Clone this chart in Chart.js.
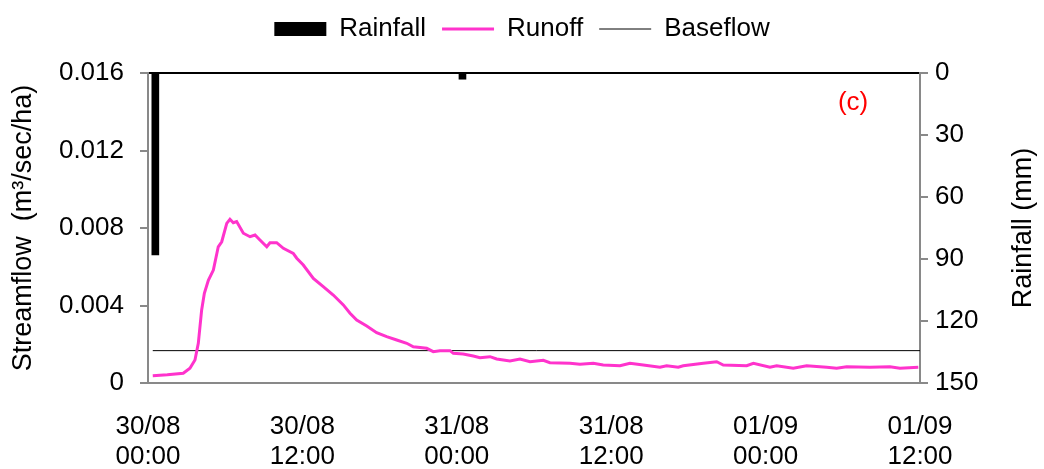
<!DOCTYPE html>
<html>
<head>
<meta charset="utf-8">
<script src="https://cdn.jsdelivr.net/npm/chart.js@4/dist/chart.umd.min.js"></script>
<style>
  html, body { margin: 0; padding: 0; background: #fff; }
  #wrap { width: 1044px; height: 469px; }
</style>
</head>
<body>
<div id="wrap"><canvas id="myChart"></canvas></div>
<script>
// hours since 30/08 00:00
const xTickLabels = [
    ['30/08', '00:00'], ['30/08', '12:00'], ['31/08', '00:00'],
    ['31/08', '12:00'], ['01/09', '00:00'], ['01/09', '12:00']
];

const rainHours = [0.57, 24.44];
const rainMm = [88, 3];

const runoffHours = [0.37, 1.5, 2.74, 3.26, 3.65, 3.91, 4.17, 4.38, 4.69, 5.08,
    5.46, 5.73, 6.12, 6.37, 6.63, 6.89, 7.41, 7.93, 8.32, 8.70,
    9.23, 9.48, 10.0, 10.52, 11.29, 11.56, 12.07, 12.85, 13.62, 14.40,
    15.18, 15.70, 16.22, 17.0, 17.77, 18.55, 19.33, 20.11, 20.62, 21.66,
    22.17, 22.69, 23.47, 23.73, 24.5, 25.28, 25.8, 26.58, 27.1, 28.13,
    28.91, 29.69, 30.72, 31.24, 32.8, 33.57, 34.61, 35.38, 36.68, 37.46,
    38.49, 39.79, 40.31, 41.21, 41.6, 43.16, 44.2, 44.71, 46.53, 47.05,
    48.34, 48.86, 50.15, 51.19, 52.75, 53.52, 54.3, 56.11, 57.66, 58.44, 59.87];
const runoffValues = [0.00038, 0.00042, 0.0005, 0.00076, 0.00119, 0.00205, 0.00377, 0.00463, 0.0053, 0.00583,
    0.00703, 0.00729, 0.00824, 0.00845, 0.00827, 0.00833, 0.00773, 0.00755, 0.00764, 0.00738,
    0.00703, 0.00724, 0.00724, 0.00695, 0.00669, 0.00644, 0.00609, 0.0054, 0.00497, 0.00454,
    0.00403, 0.0036, 0.00325, 0.00294, 0.0026, 0.00239, 0.00222, 0.00205, 0.00187, 0.00179,
    0.00162, 0.00167, 0.00167, 0.00153, 0.0015, 0.00139, 0.00131, 0.00136, 0.00124, 0.00114,
    0.00124, 0.0011, 0.00117, 0.00105, 0.00102, 0.00097, 0.00102, 0.00093, 0.00089, 0.00102,
    0.00093, 0.00081, 0.00089, 0.00081, 0.00089, 0.00102, 0.0011, 0.00093, 0.00089, 0.00102,
    0.00081, 0.00089, 0.00076, 0.00089, 0.00081, 0.00076, 0.00084, 0.00081, 0.00084, 0.00076, 0.00081];

const baseflowHours = [0.37, 60];
const baseflowValues = [0.00167, 0.00167];

const FONT = '"Liberation Sans", Arial, sans-serif';
const AXIS_GRAY = '#898989';

const pairs = (xs, ys) => xs.map((x, i) => ({ x: x, y: ys[i] }));

// right title reads bottom-to-top, plus the (c) panel tag
const extraText = {
    id: 'extraText',
    afterDraw(chart) {
        const ctx = chart.ctx;
        const area = chart.chartArea;
        ctx.save();
        ctx.font = '27px ' + FONT;
        ctx.fillStyle = '#000';
        ctx.textAlign = 'center';
        ctx.textBaseline = 'middle';
        ctx.translate(1024, (area.top + area.bottom) / 2);
        ctx.rotate(-Math.PI / 2);
        ctx.fillText('Rainfall (mm)', 0, 0);
        ctx.restore();

        ctx.save();
        ctx.font = '26px ' + FONT;
        ctx.fillStyle = '#ff0000';
        ctx.textAlign = 'center';
        ctx.textBaseline = 'middle';
        ctx.fillText('(c)', chart.scales.x.getPixelForValue(54.8), chart.scales.y.getPixelForValue(0.01445));
        ctx.restore();
    }
};

const ctx = document.getElementById('myChart').getContext('2d');
const myChart = new Chart(ctx, {
    type: 'line',
    data: {
        datasets: [
            {
                type: 'bar',
                label: 'Rainfall',
                data: pairs(rainHours, rainMm),
                yAxisID: 'y1',
                xAxisID: 'x',
                backgroundColor: '#000',
                borderWidth: 0,
                barThickness: 7
            },
            {
                label: 'Runoff',
                data: pairs(runoffHours, runoffValues),
                yAxisID: 'y',
                borderColor: '#ff33cc',
                backgroundColor: '#ff33cc',
                borderWidth: 3,
                pointRadius: 0,
                tension: 0
            },
            {
                label: 'Baseflow',
                data: pairs(baseflowHours, baseflowValues),
                yAxisID: 'y',
                borderColor: '#000',
                backgroundColor: '#000',
                borderWidth: 1,
                pointRadius: 0
            }
        ]
    },
    options: {
        responsive: true,
        maintainAspectRatio: false,
        animation: false,
        layout: { padding: 0 },
        plugins: {
            tooltip: { enabled: false },
            legend: {
                position: 'top',
                labels: {
                    color: '#000',
                    font: { family: FONT, size: 26 },
                    usePointStyle: true,
                    pointStyleWidth: 52,
                    boxHeight: 14,
                    padding: 16,
                    generateLabels: chart => {
                        const items = Chart.defaults.plugins.legend.labels.generateLabels(chart);
                        items.forEach(it => { it.pointStyle = it.datasetIndex === 0 ? 'rect' : 'line'; });
                        return items;
                    }
                }
            }
        },
        scales: {
            x: {
                type: 'linear',
                position: 'bottom',
                min: 0,
                max: 60,
                offset: false,
                afterFit: s => { s.height = 86; },
                grid: { display: false, drawTicks: false },
                border: { color: AXIS_GRAY, width: 2 },
                ticks: {
                    stepSize: 12,
                    autoSkip: false,
                    maxRotation: 0,
                    padding: 29,
                    color: '#000',
                    font: { family: FONT, size: 26, lineHeight: 1.15 },
                    callback: v => xTickLabels[Math.round(v / 12)]
                }
            },
            xTop: {
                type: 'linear',
                position: 'top',
                min: 0,
                max: 1,
                afterFit: s => { s.height = 73 - s.chart.legend.height; },
                grid: { display: false, drawTicks: false },
                border: { color: '#000', width: 2 },
                ticks: { display: false }
            },
            y: {
                position: 'left',
                min: 0,
                max: 0.016,
                afterFit: s => { s.width = 148; },
                grid: { drawOnChartArea: false, drawTicks: true, tickLength: 8, color: AXIS_GRAY, lineWidth: 2 },
                border: { color: AXIS_GRAY, width: 2 },
                ticks: {
                    stepSize: 0.004,
                    padding: 16,
                    color: '#000',
                    font: { family: FONT, size: 26 },
                    callback: v => v === 0 ? '0' : v.toFixed(3)
                },
                title: {
                    display: true,
                    text: 'Streamflow  (m³/sec/ha)',
                    color: '#000',
                    font: { family: FONT, size: 27 },
                    padding: { top: 7, bottom: 0 }
                }
            },
            y1: {
                position: 'right',
                reverse: true,
                min: 0,
                max: 150,
                afterFit: s => { s.width = 124; },
                grid: { drawOnChartArea: false, drawTicks: true, tickLength: 8, color: AXIS_GRAY, lineWidth: 2 },
                border: { color: AXIS_GRAY, width: 2 },
                ticks: {
                    stepSize: 30,
                    padding: 7,
                    color: '#000',
                    font: { family: FONT, size: 26 }
                }
            }
        }
    },
    plugins: [extraText]
});
</script>
</body>
</html>
